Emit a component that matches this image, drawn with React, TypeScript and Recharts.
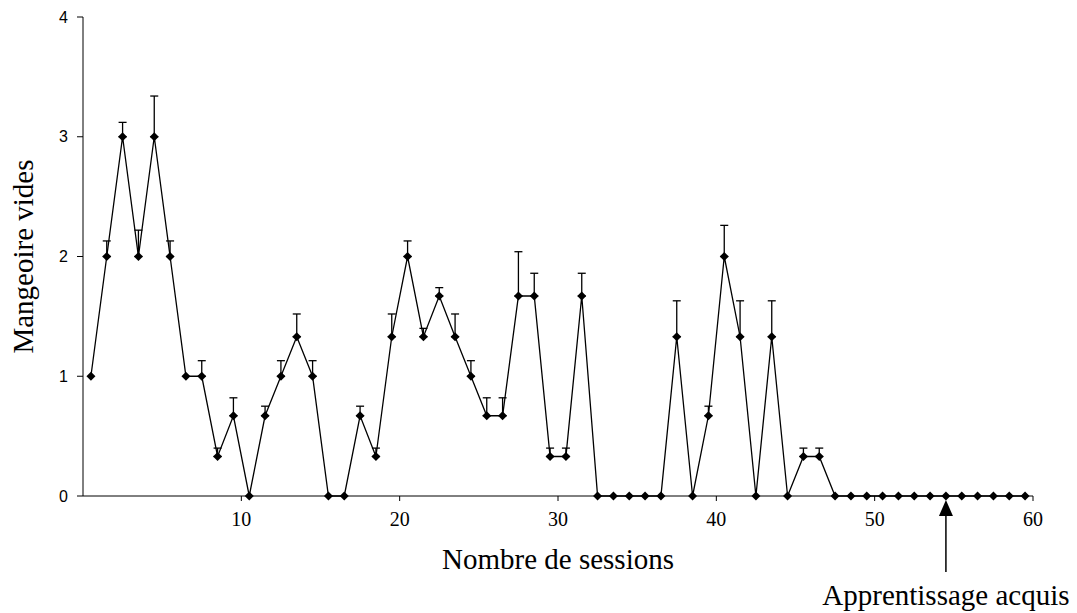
import { ErrorBar, Line, LineChart, ReferenceDot, XAxis, YAxis } from "recharts";

const sessions = Array.from({ length: 60 }, (_, i) => i + 1);

const emptyFeeders = [
  1, 2, 3, 2, 3, 2, 1, 1, 0.33, 0.67,
  0, 0.67, 1, 1.33, 1, 0, 0, 0.67, 0.33, 1.33,
  2, 1.33, 1.67, 1.33, 1, 0.67, 0.67, 1.67, 1.67, 0.33,
  0.33, 1.67, 0, 0, 0, 0, 0, 1.33, 0, 0.67,
  2, 1.33, 0, 1.33, 0, 0.33, 0.33, 0, 0, 0,
  0, 0, 0, 0, 0, 0, 0, 0, 0, 0,
];

// upper error only (SEM), null = no bar
const errorUp = [
  null, 0.13, 0.12, 0.22, 0.34, 0.13, null, 0.13, 0.07, 0.15,
  null, 0.08, 0.13, 0.19, 0.13, null, null, 0.08, 0.07, 0.19,
  0.13, 0.07, 0.07, 0.19, 0.13, 0.15, 0.15, 0.37, 0.19, 0.07,
  0.07, 0.19, null, null, null, null, null, 0.3, null, 0.08,
  0.26, 0.3, null, 0.3, null, 0.07, 0.07, null, null, null,
  null, null, null, null, null, null, null, null, null, null,
];

const xTicks = [10, 20, 30, 40, 50, 60];
const yTicks = [0, 1, 2, 3, 4];
const learnedAt = 55;

// sessions sit in the middle of their category slot
const data = sessions.map((s, i) => ({
  x: s - 0.5,
  value: emptyFeeders[i],
  err: errorUp[i] == null ? undefined : [0, errorUp[i]],
}));

const serif = "'Liberation Serif', 'Times New Roman', serif";
const sans = "'Liberation Sans', Arial, sans-serif";

function Diamond(props: any) {
  const { cx, cy } = props;
  if (cx == null || cy == null) return null;
  const r = 4.5;
  return (
    <path
      d={`M${cx},${cy - r}L${cx + r},${cy}L${cx},${cy + r}L${cx - r},${cy}Z`}
      fill="#000"
      stroke="none"
    />
  );
}

function Arrow(props: any) {
  const { cx, cy } = props;
  if (cx == null || cy == null) return <g />;
  const tip = cy + 4;
  return (
    <g>
      <path d={`M${cx},${tip}L${cx + 7},${tip + 16}L${cx - 7},${tip + 16}Z`} fill="#000" />
      <line x1={cx} y1={tip + 14} x2={cx} y2={cy + 76} stroke="#000" strokeWidth={1.5} />
      <text x={cx} y={cy + 109} textAnchor="middle" fontFamily={serif} fontSize={29} fill="#000">
        Apprentissage acquis
      </text>
    </g>
  );
}

export default function App() {
  return (
    <div style={{ position: "absolute", left: 0, top: 0, width: 1077, height: 613, background: "#fff" }}>
      <LineChart width={1077} height={613} data={data} margin={{ top: 17, right: 44, bottom: 77, left: 13 }}>
        <XAxis
          dataKey="x"
          type="number"
          domain={[0, 60]}
          ticks={xTicks}
          allowDataOverflow
          height={40}
          stroke="#000"
          tickSize={5}
          tickMargin={11}
          fontSize={20}
          fontFamily={serif}
          tick={{ fill: "#000", fontSize: 20, fontFamily: serif }}
          label={{
            value: "Nombre de sessions",
            position: "bottom",
            offset: 12,
            fill: "#000",
            fontSize: 29,
            fontFamily: serif,
          }}
        />
        <YAxis
          type="number"
          domain={[0, 4]}
          ticks={yTicks}
          width={70}
          stroke="#000"
          tickSize={6}
          tickMargin={9}
          fontSize={16}
          fontFamily={sans}
          tick={{ fill: "#000", fontSize: 16, fontFamily: sans }}
          label={{
            value: "Mangeoire vides",
            angle: -90,
            position: "insideLeft",
            offset: 10,
            fill: "#000",
            fontSize: 29,
            fontFamily: serif,
            style: { textAnchor: "middle" },
          }}
        />
        <Line
          type="linear"
          dataKey="value"
          stroke="#000"
          strokeWidth={1.3}
          dot={<Diamond />}
          activeDot={false}
          isAnimationActive={false}
        >
          <ErrorBar dataKey="err" direction="y" width={4} stroke="#000" strokeWidth={1.3} />
        </Line>
        <ReferenceDot x={learnedAt - 0.5} y={0} r={0} ifOverflow="visible" shape={<Arrow />} />
      </LineChart>
    </div>
  );
}
